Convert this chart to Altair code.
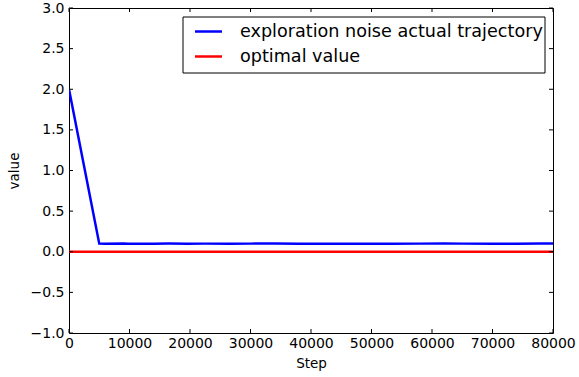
import altair as alt
import pandas as pd

# Trajectory of the exploration noise (step, value)
noise_steps = [0, 5000, 6000, 9000, 9800, 14000, 16500, 19500, 22500, 26500,
               30000, 34000, 38000, 42000, 46000, 50000, 53500, 58000, 62000,
               65000, 70000, 74000, 78000, 80000]
noise_values = [2.0, 0.1, 0.098, 0.101, 0.099, 0.1, 0.101, 0.099, 0.1, 0.098,
                0.1, 0.101, 0.1, 0.099, 0.1, 0.1, 0.098, 0.1, 0.101, 0.1,
                0.099, 0.1, 0.101, 0.1]

# Optimal value reference line
optimal_steps = [0, 80000]
optimal_values = [0.0, 0.0]

series_names = ["exploration noise actual trajectory", "optimal value"]
series_colors = ["#0000ff", "#ff0000"]

x_ticks = [0, 10000, 20000, 30000, 40000, 50000, 60000, 70000, 80000]
y_ticks = [-1.0, -0.5, 0.0, 0.5, 1.0, 1.5, 2.0, 2.5, 3.0]

W, H = 484, 325
FONT = "DejaVu Sans"

lines_df = pd.concat([
    pd.DataFrame({"Step": noise_steps, "value": noise_values, "series": series_names[0]}),
    pd.DataFrame({"Step": optimal_steps, "value": optimal_values, "series": series_names[1]}),
])

x_scale = alt.Scale(domain=[0, 80000], nice=False, zero=False)
y_scale = alt.Scale(domain=[-1, 3], nice=False, zero=False)

lines = alt.Chart(lines_df).mark_line(strokeWidth=2.5, clip=True).encode(
    x=alt.X("Step:Q", scale=x_scale,
            axis=alt.Axis(values=x_ticks, format="d", ticks=False, domain=False, grid=False,
                          labelFontSize=14, labelPadding=3, labelColor="black",
                          title="Step", titleFontSize=13.5, titleFontWeight="normal",
                          titlePadding=6, titleColor="black", labelFlush=False)),
    y=alt.Y("value:Q", scale=y_scale,
            axis=alt.Axis(values=y_ticks, format=".1f", ticks=False, domain=False, grid=False,
                          labelFontSize=14, labelPadding=5, labelColor="black",
                          title="value", titleFontSize=13.5, titleFontWeight="normal",
                          titlePadding=9, titleColor="black", labelFlush=False)),
    color=alt.Color("series:N", scale=alt.Scale(domain=series_names, range=series_colors),
                    legend=None),
    detail="series:N",
)

# Inward ticks on all four sides
xt = pd.DataFrame({"t": x_ticks})
yt = pd.DataFrame({"t": y_ticks})
TL = 4
tick_x_bottom = alt.Chart(xt).mark_rule(color="black", strokeWidth=1).encode(
    x=alt.X("t:Q", scale=x_scale), y=alt.value(H), y2=alt.value(H - TL))
tick_x_top = alt.Chart(xt).mark_rule(color="black", strokeWidth=1).encode(
    x=alt.X("t:Q", scale=x_scale), y=alt.value(0), y2=alt.value(TL))
tick_y_left = alt.Chart(yt).mark_rule(color="black", strokeWidth=1).encode(
    y=alt.Y("t:Q", scale=y_scale), x=alt.value(0), x2=alt.value(TL))
tick_y_right = alt.Chart(yt).mark_rule(color="black", strokeWidth=1).encode(
    y=alt.Y("t:Q", scale=y_scale), x=alt.value(W - TL), x2=alt.value(W))

# Legend box in the upper right
one = pd.DataFrame({"k": [0]})
LX0, LX1, LY0, LY1 = 114, 476, 9, 65
legend_box = alt.Chart(one).mark_rect(fill="white", stroke="black", strokeWidth=1).encode(
    x=alt.value(LX0), x2=alt.value(LX1), y=alt.value(LY0), y2=alt.value(LY1))
legend_layers = [legend_box]
for i, (name, col) in enumerate(zip(series_names, series_colors)):
    yy = 23.5 + i * 25
    legend_layers.append(
        alt.Chart(one).mark_rule(color=col, strokeWidth=2.5).encode(
            x=alt.value(126), x2=alt.value(153), y=alt.value(yy)))
    legend_layers.append(
        alt.Chart(one).mark_text(text=name, align="left", baseline="middle",
                                 font=FONT, fontSize=17.6, color="black").encode(
            x=alt.value(171), y=alt.value(yy)))

chart = alt.layer(lines, tick_x_bottom, tick_x_top, tick_y_left, tick_y_right,
                  *legend_layers).properties(
    width=W, height=H,
    autosize=alt.AutoSizeParams(type="none"),
    padding={"left": 69, "top": 8, "right": 26, "bottom": 44},
    background="white",
).configure_view(stroke="black", strokeWidth=1).configure_axis(
    labelFont=FONT, titleFont=FONT
).configure_text(font=FONT)

chart.save("out.html", embed_options={"renderer": "svg", "actions": False})
